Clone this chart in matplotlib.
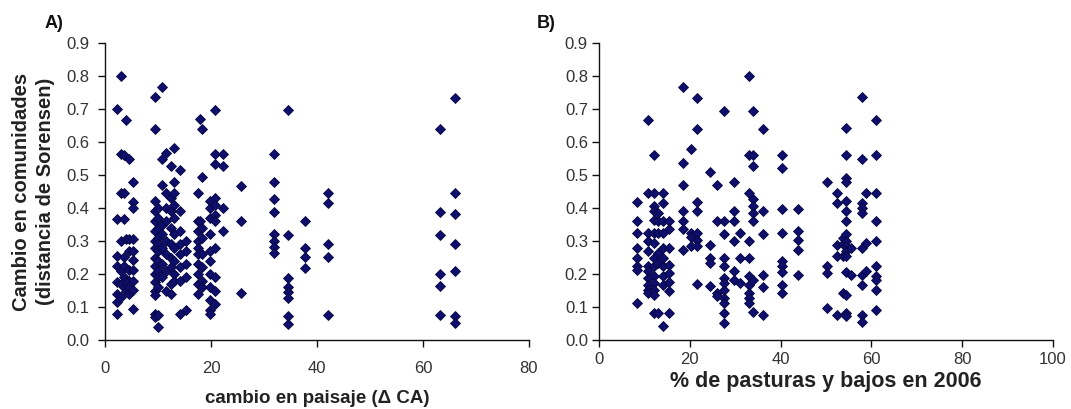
import matplotlib
matplotlib.use("Agg")
import matplotlib.pyplot as plt
from matplotlib.ticker import FormatStrFormatter

plt.rcParams['font.family'] = ['Liberation Sans', 'DejaVu Sans']

# Panel A: landscape change (x) vs community change (Sorensen distance)
a_x = [2.3, 3.1, 3.6, 3.9, 4.6, 5.3,
       9.4, 10.0, 10.8, 11.6, 12.5, 13.1, 14.1, 15.3,
       17.5, 17.9, 18.3, 19.9, 20.8, 22.3,
       25.6, 31.8, 34.6, 37.8, 42.1, 63.3, 66.1]
a_y = [
    [0.70, 0.366, 0.256, 0.225, 0.175, 0.14, 0.115, 0.079],
    [0.80, 0.564, 0.446, 0.30, 0.21, 0.17, 0.13],
    [0.562, 0.446, 0.366, 0.253, 0.223, 0.192, 0.16],
    [0.668, 0.305, 0.18, 0.15],
    [0.547, 0.305, 0.27, 0.212, 0.18, 0.16, 0.14],
    [0.48, 0.417, 0.40, 0.305, 0.269, 0.243, 0.212, 0.18, 0.151, 0.095],
    [0.736, 0.64, 0.42, 0.39, 0.36, 0.33, 0.30, 0.28, 0.25, 0.225, 0.20, 0.175, 0.15, 0.135, 0.08, 0.07],
    [0.40, 0.37, 0.34, 0.31, 0.29, 0.27, 0.24, 0.21, 0.19, 0.16, 0.075, 0.04],
    [0.768, 0.547, 0.471, 0.35, 0.32, 0.28, 0.23, 0.19],
    [0.566, 0.446, 0.40, 0.36, 0.30, 0.26, 0.21, 0.15],
    [0.527, 0.43, 0.39, 0.34, 0.29, 0.25, 0.22, 0.17, 0.14],
    [0.582, 0.478, 0.446, 0.41, 0.37, 0.32, 0.28, 0.24, 0.20, 0.18],
    [0.514, 0.39, 0.33, 0.29, 0.26, 0.22, 0.18, 0.08],
    [0.30, 0.27, 0.23, 0.19, 0.09],
    [0.446, 0.36, 0.33, 0.30, 0.28, 0.26, 0.23, 0.20, 0.17, 0.14],
    [0.67, 0.36],
    [0.64, 0.493, 0.34, 0.31, 0.26, 0.22, 0.18, 0.16],
    [0.42, 0.40, 0.37, 0.32, 0.27, 0.24, 0.20, 0.16, 0.12, 0.09, 0.08],
    [0.698, 0.564, 0.532, 0.43, 0.41, 0.38, 0.36, 0.28, 0.19, 0.15, 0.11],
    [0.564, 0.526, 0.40, 0.33],
    [0.467, 0.36, 0.142],
    [0.563, 0.478, 0.426, 0.388, 0.32, 0.30, 0.282, 0.265],
    [0.697, 0.317, 0.187, 0.161, 0.144, 0.128, 0.073, 0.05],
    [0.36, 0.28, 0.252, 0.217],
    [0.445, 0.414, 0.29, 0.252, 0.076],
    [0.639, 0.388, 0.318, 0.199, 0.163, 0.076],
    [0.733, 0.445, 0.383, 0.29, 0.209, 0.072, 0.053],
]

# Panel B: % pasture and lowland in 2006 vs community change
b_x = [8.3, 10.8, 12.1, 13.1, 14.2, 15.4, 18.4, 20.3, 21.5, 24.4, 26.0,
       27.5, 29.8, 31.0, 33.0, 33.9, 36.1, 40.3, 43.8,
       50.2, 52.5, 53.7, 54.4, 55.6, 58.0, 58.8, 61.0]
b_y = [
    [0.419, 0.36, 0.325, 0.279, 0.248, 0.223, 0.211, 0.112],
    [0.667, 0.446, 0.325, 0.30, 0.27, 0.223, 0.208, 0.188, 0.167, 0.152, 0.142],
    [0.56, 0.446, 0.406, 0.39, 0.365, 0.325, 0.294, 0.248, 0.223, 0.193, 0.172, 0.152, 0.137, 0.081],
    [0.385, 0.36, 0.325, 0.264, 0.233, 0.081],
    [0.446, 0.416, 0.36, 0.325, 0.279, 0.248, 0.223, 0.193, 0.167, 0.041],
    [0.36, 0.335, 0.279, 0.228, 0.203, 0.177, 0.147, 0.081],
    [0.766, 0.537, 0.469, 0.39, 0.36, 0.335, 0.274],
    [0.58, 0.325, 0.312, 0.284],
    [0.733, 0.639, 0.419, 0.39, 0.325, 0.304, 0.286, 0.17],
    [0.509, 0.289, 0.248, 0.233, 0.164],
    [0.469, 0.36, 0.142, 0.132],
    [0.695, 0.36, 0.32, 0.248, 0.223, 0.188, 0.172, 0.152, 0.127, 0.112, 0.081, 0.051],
    [0.479, 0.39, 0.36, 0.30, 0.208, 0.183],
    [0.325, 0.248, 0.172],
    [0.80, 0.56, 0.446, 0.30, 0.248, 0.193, 0.167, 0.142, 0.127, 0.112],
    [0.695, 0.56, 0.527, 0.426, 0.406, 0.385, 0.36, 0.183, 0.086],
    [0.639, 0.39, 0.32, 0.198, 0.162, 0.076],
    [0.56, 0.522, 0.396, 0.325, 0.238, 0.223, 0.205, 0.167, 0.142],
    [0.396, 0.33, 0.304, 0.274, 0.198],
    [0.479, 0.223, 0.203, 0.096],
    [0.446, 0.414, 0.289, 0.254, 0.076],
    [0.31, 0.29, 0.254, 0.142],
    [0.641, 0.56, 0.492, 0.479, 0.421, 0.39, 0.36, 0.32, 0.30, 0.284, 0.269, 0.254, 0.205, 0.137, 0.081, 0.073],
    [0.279, 0.198],
    [0.735, 0.548, 0.414, 0.40, 0.385, 0.279, 0.198, 0.167, 0.076, 0.056],
    [0.446, 0.294, 0.208],
    [0.667, 0.56, 0.446, 0.36, 0.30, 0.223, 0.193, 0.183, 0.152, 0.091],
]

a_xticks = [0, 20, 40, 60, 80]
b_xticks = [0, 20, 40, 60, 80, 100]
y_ticks = [0.0, 0.1, 0.2, 0.3, 0.4, 0.5, 0.6, 0.7, 0.8, 0.9]

marker_face = '#0e0e6c'
marker_edge = '#08083f'
tick_color = '#333333'

fig = plt.figure(figsize=(10.71, 4.09), dpi=100)
ax_a = fig.add_axes([105 / 1071, 69 / 409, 424 / 1071, 297 / 409])
ax_b = fig.add_axes([599 / 1071, 69 / 409, 454 / 1071, 297 / 409])


def flatten(xs, ys):
    px, py = [], []
    for xv, col in zip(xs, ys):
        for yv in col:
            px.append(xv)
            py.append(yv)
    return px, py


def style(ax, xmax, xticks, xpad, ypad):
    ax.set_xlim(0, xmax)
    ax.set_ylim(0, 0.9)
    ax.set_xticks(xticks)
    ax.set_yticks(y_ticks)
    ax.yaxis.set_major_formatter(FormatStrFormatter('%.1f'))
    for side in ('top', 'right'):
        ax.spines[side].set_visible(False)
    for side in ('left', 'bottom'):
        ax.spines[side].set_linewidth(1.0)
        ax.spines[side].set_color('#111111')
    ax.tick_params(direction='out', length=5, width=1.0, color='#111111',
                   labelsize=12, labelcolor=tick_color)
    ax.tick_params(axis='x', pad=xpad)
    ax.tick_params(axis='y', pad=ypad)


xa, ya = flatten(a_x, a_y)
xb, yb = flatten(b_x, b_y)

for ax, px, py in ((ax_a, xa, ya), (ax_b, xb, yb)):
    ax.plot(px, py, linestyle='none', marker='D', markersize=4.9,
            markerfacecolor=marker_face, markeredgecolor=marker_edge,
            markeredgewidth=0.6, clip_on=False)

style(ax_a, 80, a_xticks, xpad=10, ypad=6.5)
style(ax_b, 100, b_xticks, xpad=3.5, ypad=3)

ax_a.set_xlabel('cambio en paisaje (\u0394 CA)', fontsize=13.5,
                fontweight='bold', color='#222222', labelpad=10)
ax_b.set_xlabel('% de pasturas y bajos en 2006', fontsize=15.5,
                fontweight='bold', color='#222222', labelpad=3)
ax_a.set_ylabel('Cambio en comunidades\n(distancia de Sorensen)',
                fontsize=14.5, fontweight='bold', color='#222222',
                linespacing=1.3)
ax_a.yaxis.set_label_coords(-0.118, 0.5)

fig.text(45 / 1071, 1 - 24 / 409, 'A)', fontsize=13, fontweight='bold',
         va='center', ha='left', color='#111111')
fig.text(537 / 1071, 1 - 24 / 409, 'B)', fontsize=13, fontweight='bold',
         va='center', ha='left', color='#111111')

fig.savefig('out.png', dpi=100, facecolor='white')
